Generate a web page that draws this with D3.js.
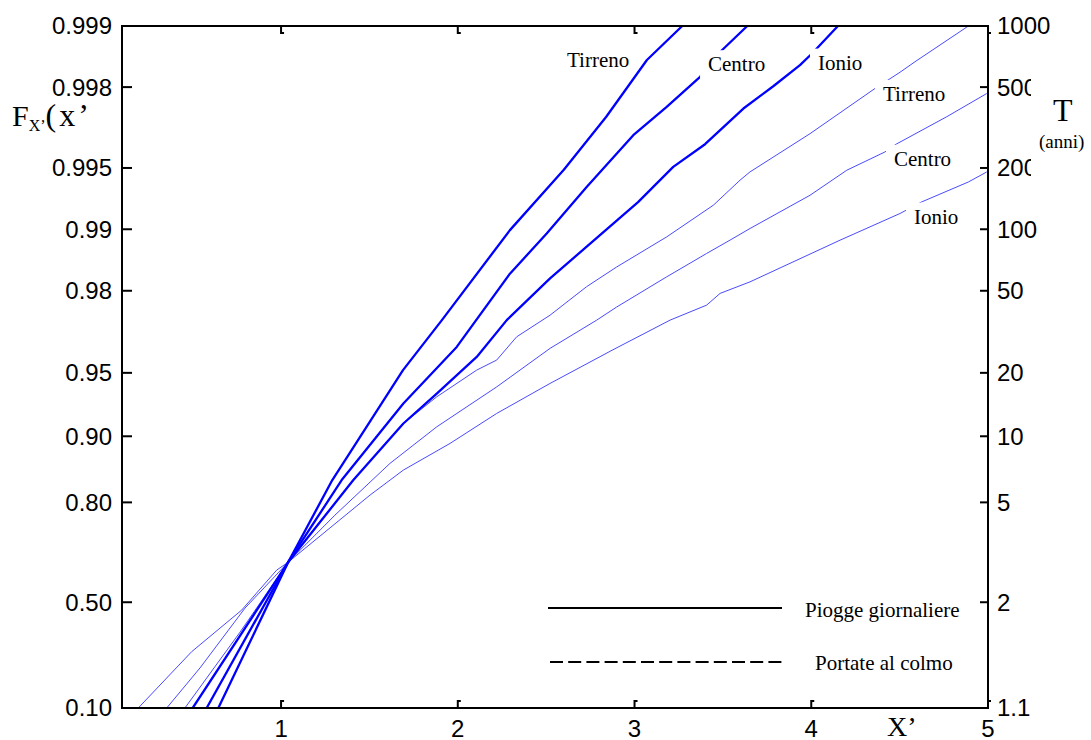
<!DOCTYPE html>
<html>
<head>
<meta charset="utf-8">
<title>Curve di crescita</title>
<style>
  body { margin: 0; background: #fff; }
  svg { display: block; }
  .tick-label { font: 24px "Liberation Sans", Arial, sans-serif; fill: #000; }
  .serif { font-family: "Liberation Serif", "Times New Roman", serif; fill: #000; }
</style>
</head>
<body>
<script src="https://d3js.org/d3.v7.min.js"></script>
<script>
// probability ticks (left) and return periods (right)
const fTicks = [0.10, 0.50, 0.80, 0.90, 0.95, 0.98, 0.99, 0.995, 0.998, 0.999];
const fTickLabels = ["0.10", "0.50", "0.80", "0.90", "0.95", "0.98", "0.99", "0.995", "0.998", "0.999"];
const tTicks = [1.1, 2, 5, 10, 20, 50, 100, 200, 500, 1000];
const xTicks = [1, 2, 3, 4, 5];

// Piogge giornaliere (thick)
const pioggeTirrenoX = [0.645, 1.04, 1.29, 1.69, 1.91, 2.295, 2.60, 2.84, 3.07, 3.27];
const pioggeTirrenoF = [0.10, 0.644, 0.841, 0.9515, 0.9722, 0.9899, 0.9949, 0.9972, 0.99853, 0.999];
const pioggeCentroX = [0.579, 1.04, 1.343, 1.692, 1.994, 2.295, 2.503, 2.729, 2.993, 3.182, 3.371, 3.493, 3.638];
const pioggeCentroF = [0.10, 0.644, 0.841, 0.930, 0.9625, 0.9835, 0.9895, 0.9938, 0.99655, 0.9975, 0.99822, 0.99868, 0.999];
const pioggeIonioX = [0.500, 1.04, 1.409, 1.692, 1.881, 2.107, 2.277, 2.522, 2.793, 3.020, 3.219, 3.399, 3.616, 3.785, 3.936, 4.003, 4.151];
const pioggeIonioF = [0.10, 0.644, 0.841, 0.9129, 0.9372, 0.9581, 0.9722, 0.9826, 0.9891, 0.99264, 0.99506, 0.99618, 0.99745, 0.99802, 0.99844, 0.99863, 0.999];

// Portate al colmo (thin)
const portateTirrenoX = [0.456, 0.768, 1.04, 1.418, 1.692, 1.881, 2.107, 2.220, 2.333, 2.522, 2.729, 2.899, 3.182, 3.446, 3.597, 3.653, 3.993, 4.361, 4.502, 4.587, 4.889];
const portateTirrenoF = [0.10, 0.378, 0.644, 0.8442, 0.9129, 0.9349, 0.9515, 0.9566, 0.9665, 0.9737, 0.9809, 0.9847, 0.9891, 0.99238, 0.99426, 0.99477, 0.99661, 0.99797, 0.99831, 0.99850, 0.999];
const portateCentroX = [0.353, 0.541, 0.796, 1.04, 1.305, 1.616, 1.881, 2.220, 2.522, 2.786, 2.899, 3.182, 3.408, 3.540, 3.653, 3.993, 4.201, 4.417, 4.480, 4.766, 4.993];
const portateCentroF = [0.10, 0.2317, 0.4767, 0.644, 0.7727, 0.8664, 0.9097, 0.9416, 0.9619, 0.9722, 0.9760, 0.9829, 0.98686, 0.98869, 0.99008, 0.99319, 0.99487, 0.99583, 0.99618, 0.99720, 0.99785];
const portateIonioX = [0.192, 0.494, 0.777, 0.975, 1.04, 1.503, 1.692, 1.956, 2.220, 2.522, 2.873, 3.201, 3.408, 3.484, 3.653, 4.163, 4.502, 4.625, 4.889, 4.993];
const portateIonioF = [0.10, 0.2966, 0.4686, 0.6179, 0.644, 0.8142, 0.8567, 0.8920, 0.9219, 0.9438, 0.9611, 0.9722, 0.9765, 0.9794, 0.9819, 0.98869, 0.99163, 0.99266, 0.99414, 0.99477];

// curve labels: left edge in X', baseline in F
const labelText = ["Tirreno", "Centro", "Ionio", "Tirreno", "Centro", "Ionio"];
const labelX = [2.618, 3.416, 4.038, 4.406, 4.468, 4.581];
const labelF = [0.99841, 0.99833, 0.99836, 0.99766, 0.99512, 0.99062];

const width = 1091, height = 740;
const plot = { left: 122, right: 988, top: 26, bottom: 708 };

const gumbel = F => -Math.log(-Math.log(F));
const x = d3.scaleLinear().domain([0.1, 5]).range([plot.left, plot.right]);
const y = d3.scaleLinear().domain([gumbel(0.10), gumbel(0.999)]).range([plot.bottom, plot.top]).clamp(true);
const yF = F => y(gumbel(F));

const svg = d3.select("body").append("svg").attr("width", width).attr("height", height);

svg.append("clipPath").attr("id", "clip")
  .append("rect").attr("x", plot.left).attr("y", plot.top)
  .attr("width", plot.right - plot.left).attr("height", plot.bottom - plot.top);

const series = [
  { xs: portateIonioX, fs: portateIonioF, thick: false },
  { xs: portateCentroX, fs: portateCentroF, thick: false },
  { xs: portateTirrenoX, fs: portateTirrenoF, thick: false },
  { xs: pioggeIonioX, fs: pioggeIonioF, thick: true },
  { xs: pioggeCentroX, fs: pioggeCentroF, thick: true },
  { xs: pioggeTirrenoX, fs: pioggeTirrenoF, thick: true }
];

const line = d3.line().x(d => x(d[0])).y(d => yF(d[1]));

svg.append("g").attr("clip-path", "url(#clip)")
  .selectAll("path").data(series).join("path")
  .attr("d", s => line(d3.zip(s.xs, s.fs)))
  .attr("fill", "none")
  .attr("stroke", s => s.thick ? "#0000ff" : "#4a4aff")
  .attr("stroke-width", s => s.thick ? 2.3 : 1)
  .attr("stroke-linejoin", "round");

// curve labels with white boxes that interrupt the lines
const labels = d3.zip(labelText, labelX, labelF);
svg.append("g").selectAll("g").data(labels).join("g").each(function(d) {
  const g = d3.select(this);
  const bx = x(d[1]), by = yF(d[2]);
  const t = g.append("text").attr("class", "serif").attr("x", bx).attr("y", by)
    .style("font-size", "21px").text(d[0]);
  const bb = t.node().getBBox();
  g.insert("rect", "text").attr("x", bb.x - 8).attr("y", by - 21)
    .attr("width", bb.width + 12).attr("height", 29).attr("fill", "#fff");
});

// frame
const axisG = svg.append("g").attr("stroke", "#000").attr("stroke-width", 2).attr("fill", "none");
axisG.append("rect").attr("x", plot.left).attr("y", plot.top)
  .attr("width", plot.right - plot.left).attr("height", plot.bottom - plot.top);

// left ticks
axisG.selectAll(".lt").data(fTicks).join("line")
  .attr("x1", plot.left).attr("x2", plot.left + 10)
  .attr("y1", d => yF(d)).attr("y2", d => yF(d));
svg.append("g").selectAll("text").data(fTicks).join("text")
  .attr("class", "tick-label").attr("text-anchor", "end")
  .attr("x", plot.left - 10).attr("y", d => yF(d)).attr("dy", "0.35em")
  .text((d, i) => fTickLabels[i]);

// right ticks (return period)
const yT = T => y(gumbel(1 - 1 / T));
axisG.selectAll(".rt").data(tTicks).join("line")
  .attr("x1", plot.right - 8).attr("x2", plot.right)
  .attr("y1", d => yT(d)).attr("y2", d => yT(d));
svg.append("g").selectAll("text").data(tTicks).join("text")
  .attr("class", "tick-label")
  .attr("x", plot.right + 9).attr("y", d => yT(d)).attr("dy", "0.35em")
  .text(d => d);

// bottom and top ticks
axisG.selectAll(".bt").data(xTicks).join("path")
  .attr("d", d => `M${x(d)},${plot.bottom}V${plot.bottom - 7}h3`);
axisG.selectAll(".tt").data(xTicks).join("path")
  .attr("d", d => `M${x(d)},${plot.top}V${plot.top + 7}h3`);
svg.append("g").selectAll("text").data(xTicks).join("text")
  .attr("class", "tick-label").attr("text-anchor", "middle")
  .attr("x", d => x(d)).attr("y", 737)
  .text(d => d);

// axis titles
svg.append("text").attr("class", "serif").attr("x", 887).attr("y", 736)
  .style("font-size", "28px").text("X\u2019");

const fl = svg.append("text").attr("class", "serif").attr("x", 12).attr("y", 126).style("font-size", "30px");
fl.append("tspan").text("F");
fl.append("tspan").attr("dy", 5).style("font-size", "16px").text("X\u2019");
fl.append("tspan").attr("dy", -5).style("font-size", "32px").attr("letter-spacing", "3px").text("(x\u2019");

// T (anni) label box clips the right tick labels
svg.append("rect").attr("x", 1031).attr("y", 62).attr("width", 60).attr("height", 133).attr("fill", "#fff");
svg.append("text").attr("class", "serif").attr("x", 1053).attr("y", 121).style("font-size", "32px").text("T");
svg.append("text").attr("class", "serif").attr("x", 1039).attr("y", 148).style("font-size", "19px").text("(anni)");

// legend
const leg = svg.append("g");
leg.append("line").attr("x1", 548).attr("x2", 782).attr("y1", 608).attr("y2", 608)
  .attr("stroke", "#000").attr("stroke-width", 2);
leg.append("text").attr("class", "serif").attr("x", 805).attr("y", 617)
  .style("font-size", "21px").text("Piogge giornaliere");
leg.append("line").attr("x1", 550).attr("x2", 785).attr("y1", 662).attr("y2", 662)
  .attr("stroke", "#000").attr("stroke-width", 2).attr("stroke-dasharray", "13,5.2");
leg.append("text").attr("class", "serif").attr("x", 815).attr("y", 670)
  .style("font-size", "21px").text("Portate al colmo");
</script>
</body>
</html>
